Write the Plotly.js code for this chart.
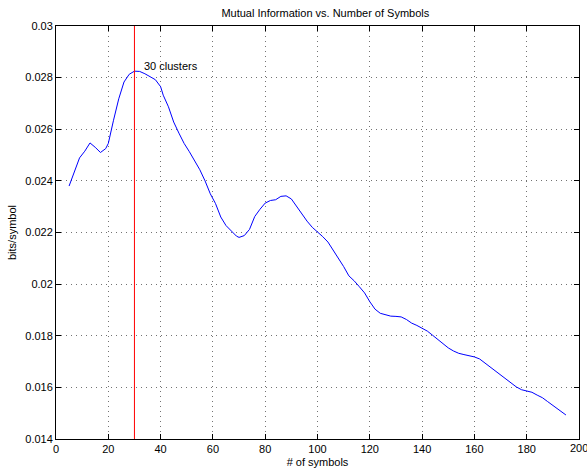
<!DOCTYPE html>
<html>
<head>
<meta charset="utf-8">
<script src="https://cdn.plot.ly/plotly-3.0.1.min.js"></script>
<style>html,body{margin:0;padding:0;background:#fff;}#chart{width:587px;height:470px;}</style>
</head>
<body>
<div id="chart"></div>
<script>
var numSymbols = [5,7,9,11,13,15,17,19,20,22,24,26,28,30,32,34,36,38,40,41,43,45,47,49,51,53,55,57,59,61,63,65,67,69,70,72,74,76,78,80,82,84,86,88,90,92,94,96,98,100,102,104,106,108,110,112,114,116,118,120,122,124,126,128,130,132,134,136,138,140,142,144,146,148,150,152,154,156,158,160,162,164,166,168,170,172,174,176,178,180,182,184,186,188,190,192,194,195];
var mutualInfo = [0.02380,0.02435,0.02489,0.02515,0.02547,0.02530,0.02510,0.02525,0.02545,0.02635,0.02718,0.02783,0.02813,0.02825,0.02824,0.02815,0.02804,0.02792,0.02765,0.02732,0.02687,0.02628,0.02585,0.02545,0.02513,0.02480,0.02443,0.02400,0.02350,0.02312,0.02260,0.02227,0.02205,0.02186,0.02181,0.02188,0.02212,0.02262,0.02290,0.02314,0.02324,0.02327,0.02340,0.02342,0.02330,0.02302,0.02270,0.02244,0.02220,0.02203,0.02184,0.02163,0.02133,0.02100,0.02068,0.02032,0.02013,0.01990,0.01966,0.01932,0.01903,0.01887,0.01880,0.01876,0.01875,0.01873,0.01863,0.01849,0.01840,0.01830,0.01818,0.01802,0.01786,0.01770,0.01753,0.01741,0.01732,0.01727,0.01723,0.01718,0.01710,0.01695,0.01679,0.01664,0.01649,0.01633,0.01618,0.01602,0.01591,0.01586,0.01581,0.01570,0.01560,0.01545,0.01530,0.01513,0.01498,0.01493];
var markerX = [30, 30];
var markerY = [0.014, 0.03];
var markerLabel = '30 clusters';
var labelPos = [32.8, 0.02845];
var xTickVals = [0,20,40,60,80,100,120,140,160,180,200];
var xTickText = ['0','20','40','60','80','100','120','140','160','180','200'];
var yTickVals = [0.014,0.016,0.018,0.02,0.022,0.024,0.026,0.028,0.03];
var yTickText = ['0.014','0.016','0.018','0.02','0.022','0.024','0.026','0.028','0.03'];

var font = {family: 'Liberation Sans, Arial, Helvetica, sans-serif', size: 11, color: '#000'};
var axisCommon = {
  showline: true, linecolor: '#000', linewidth: 1, mirror: 'ticks',
  ticks: 'inside', ticklen: 5, tickcolor: '#000', tickwidth: 1,
  showgrid: true, gridcolor: 'rgba(0,0,0,0.55)', gridwidth: 1, griddash: '1px,4px',
  zeroline: false, tickfont: font, tickmode: 'array'
};
// Plotly hides the last x tick label because it runs past the page edge;
// draw it as an annotation at the same axis value instead (clipped by the page like the original).
var lastIdx = xTickVals.length - 1;
var xTickTextShown = xTickText.map(function (t, i) { return i === lastIdx ? '' : t; });

var layout = {
  width: 587, height: 470,
  margin: {l: 56, r: 8, t: 26, b: 31},
  paper_bgcolor: '#fff', plot_bgcolor: '#fff',
  showlegend: false,
  font: font,
  title: {text: 'Mutual Information vs. Number of Symbols', font: font, x: 0.515, xref: 'paper', xanchor: 'center', y: 1 - 13/470, yref: 'container', yanchor: 'middle'},
  xaxis: Object.assign({}, axisCommon, {range: [0, 200], tickvals: xTickVals, ticktext: xTickTextShown,
    title: {text: '# of symbols', font: font, standoff: 4}}),
  yaxis: Object.assign({}, axisCommon, {range: [0.014, 0.03], tickvals: yTickVals, ticktext: yTickText,
    title: {text: 'bits/symbol', font: font, standoff: 6}}),
  annotations: [
    {x: labelPos[0], y: labelPos[1], xref: 'x', yref: 'y', text: markerLabel, showarrow: false, xanchor: 'left', yanchor: 'middle', font: font},
    {x: xTickVals[lastIdx], y: 0, xref: 'x', yref: 'paper', text: xTickText[lastIdx], showarrow: false, xanchor: 'center', yanchor: 'top', yshift: -1, font: font}
  ]
};
var traces = [
  {x: numSymbols, y: mutualInfo, type: 'scatter', mode: 'lines', line: {color: '#0000ff', width: 1}, hoverinfo: 'none'},
  {x: markerX, y: markerY, type: 'scatter', mode: 'lines', line: {color: '#ff0000', width: 1}, hoverinfo: 'none'}
];
Plotly.newPlot('chart', traces, layout, {staticPlot: true, displayModeBar: false});
</script>
</body>
</html>
